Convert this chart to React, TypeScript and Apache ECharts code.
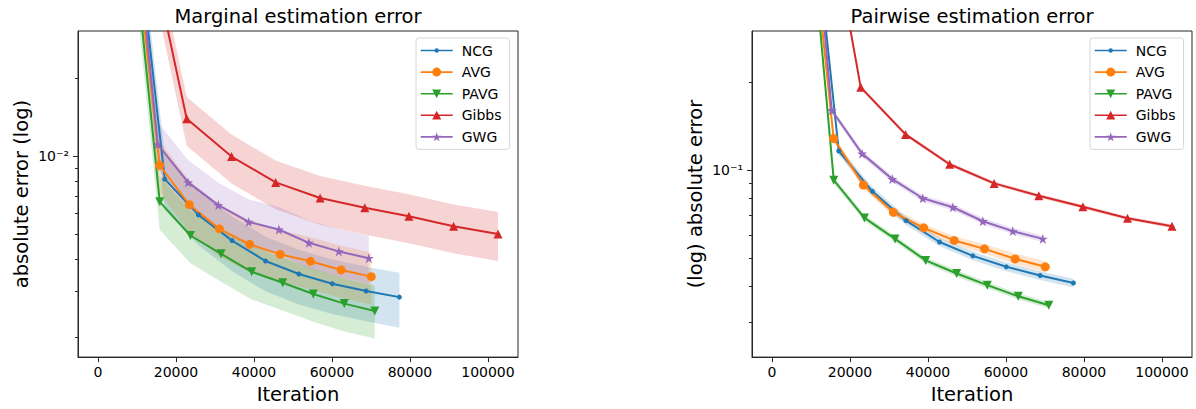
import React, { useEffect, useRef } from "react";
import * as echarts from "echarts";

const FONT = "DejaVu Sans";

const seriesNames = ["NCG", "AVG", "PAVG", "Gibbs", "GWG"];
const colors = ["#1f77b4", "#ff7f0e", "#2ca02c", "#d62728", "#9467bd"];
const titles = ["Marginal estimation error", "Pairwise estimation error"];
const yNames = ["absolute error (log)", "(log) absolute error"];
const xTicks = [0, 20000, 40000, 60000, 80000, 100000];

// iterations (x) per method
const ncgX = [8590, 17120, 25745, 34380, 42955, 51505, 60085, 68755, 77290];
const avgX = [8050, 15800, 23430, 31120, 38900, 46710, 54490, 62345, 70080];
const pavgX = [7900, 15836, 23700, 31555, 39410, 47367, 55212, 63156, 70980];
const gibbsX = [11380, 22755, 34247, 45560, 56963, 68418, 79731, 91172, 102575];
const gwgX = [7590, 15320, 23100, 30865, 38655, 46380, 54070, 61755, 69440];

// Marginal estimation error (mean, lower, upper)
const ncgMarg = [0.114, 0.00814, 0.00593, 0.00472, 0.00394, 0.00351, 0.00322, 0.00302, 0.00286];
const ncgMargLo = [0.087, 0.00621, 0.00453, 0.0036, 0.00301, 0.00268, 0.00246, 0.00231, 0.00218];
const ncgMargHi = [0.1414, 0.0101, 0.00735, 0.00585, 0.00489, 0.00435, 0.00399, 0.00374, 0.00355];
const avgMarg = [0.106, 0.00921, 0.00649, 0.00524, 0.00457, 0.00418, 0.00393, 0.00364, 0.00343];
const avgMargLo = [0.0828, 0.0072, 0.00507, 0.00409, 0.00357, 0.00327, 0.00307, 0.00284, 0.00268];
const avgMargHi = [0.1314, 0.01142, 0.00805, 0.0065, 0.00567, 0.00518, 0.00487, 0.00451, 0.00425];
const pavgMarg = [0.0997, 0.00666, 0.00494, 0.0042, 0.00358, 0.00325, 0.00294, 0.0027, 0.00253];
const pavgMargLo = [0.0779, 0.0052, 0.00386, 0.00328, 0.0028, 0.00254, 0.0023, 0.00211, 0.00198];
const pavgMargHi = [0.1246, 0.00833, 0.00618, 0.00525, 0.00448, 0.00406, 0.00368, 0.00338, 0.00316];
const gibbsMarg = [0.0877, 0.0139, 0.00995, 0.00791, 0.00689, 0.00632, 0.00586, 0.00536, 0.00501];
const gibbsMargLo = [0.069, 0.01094, 0.00783, 0.00623, 0.00543, 0.00498, 0.00461, 0.00422, 0.00394];
const gibbsMargHi = [0.1066, 0.01689, 0.01209, 0.00961, 0.00837, 0.00768, 0.00712, 0.00651, 0.00609];
const gwgMarg = [0.16, 0.01109, 0.00791, 0.00647, 0.00557, 0.00521, 0.00463, 0.00429, 0.00404];
const gwgMargLo = [0.128, 0.00887, 0.00633, 0.00518, 0.00446, 0.00417, 0.0037, 0.00343, 0.00323];
const gwgMargHi = [0.195, 0.01353, 0.00965, 0.00789, 0.0068, 0.00636, 0.00565, 0.00523, 0.00493];

// Pairwise estimation error (mean, lower, upper)
const ncgPair = [1.4, 0.1164, 0.0846, 0.0671, 0.0567, 0.0508, 0.0466, 0.0435, 0.041];
const ncgPairLo = [1.353, 0.1125, 0.0817, 0.0648, 0.0548, 0.0491, 0.045, 0.042, 0.0396];
const ncgPairHi = [1.449, 0.1205, 0.0876, 0.0694, 0.0587, 0.0526, 0.0482, 0.045, 0.0424];
const avgPair = [1.29, 0.1285, 0.0889, 0.0717, 0.0634, 0.0574, 0.0537, 0.0496, 0.0466];
const avgPairLo = [1.25, 0.1247, 0.0863, 0.0696, 0.0615, 0.0555, 0.0517, 0.0475, 0.0446];
const avgPairHi = [1.33, 0.1324, 0.0916, 0.0738, 0.0653, 0.0593, 0.0557, 0.0518, 0.0487];
const pavgPair = [1.4, 0.0924, 0.0686, 0.0581, 0.049, 0.0442, 0.0403, 0.0369, 0.0344];
const pavgPairLo = [1.366, 0.0901, 0.0669, 0.0567, 0.0478, 0.0431, 0.0393, 0.036, 0.0336];
const pavgPairHi = [1.435, 0.0947, 0.0703, 0.0596, 0.0502, 0.0453, 0.0413, 0.0378, 0.0353];
const gibbsPair = [1.36, 0.1925, 0.1327, 0.1048, 0.0901, 0.0817, 0.0749, 0.0684, 0.0642];
const gibbsPairLo = [1.34, 0.1897, 0.1307, 0.1032, 0.0888, 0.0805, 0.0738, 0.0674, 0.0633];
const gibbsPairHi = [1.38, 0.1954, 0.1347, 0.1064, 0.0915, 0.0829, 0.076, 0.0694, 0.0652];
const gwgPair = [2.3, 0.1606, 0.114, 0.0932, 0.0801, 0.0746, 0.0668, 0.0618, 0.0581];
const gwgPairLo = [2.24, 0.1567, 0.1112, 0.0909, 0.0781, 0.0728, 0.0652, 0.0603, 0.0567];
const gwgPairHi = [2.36, 0.1646, 0.1169, 0.0955, 0.0821, 0.0765, 0.0685, 0.0633, 0.0596];

// y ranges & ticks
const margRange = [0.00168, 0.0303];
const pairRange = [0.02282, 0.3006];
const margMajor = [0.01];
const margMinor = [0.002, 0.003, 0.004, 0.005, 0.006, 0.007, 0.008, 0.009, 0.02];
const pairMajor = [0.1];
const pairMinor = [0.03, 0.04, 0.05, 0.06, 0.07, 0.08, 0.09, 0.2];

function starPoints(cx: number, cy: number, r: number) {
  const pts: string[] = [];
  for (let k = 0; k < 10; k++) {
    const rr = k % 2 === 0 ? r : r * 0.382;
    const a = -Math.PI / 2 + (k * Math.PI) / 5;
    pts.push(`${(cx + rr * Math.cos(a)).toFixed(2)},${(cy + rr * Math.sin(a)).toFixed(2)}`);
  }
  return pts;
}
const STAR = "path://M" + starPoints(50, 52, 50).join(" L") + " Z";

const symbols = [
  { symbol: "circle", size: 5, rotate: 0 },
  { symbol: "circle", size: 9, rotate: 0 },
  { symbol: "triangle", size: 9, rotate: 180 },
  { symbol: "triangle", size: 9, rotate: 0 },
  { symbol: STAR, size: 10, rotate: 0 },
];

// legend icons: line + marker in a 32 x 14 box
const LEG_BOX = "M0,0 L0,0 M32,14 L32,14 ";
const LEG_LINE = "M0,6.2 L32,6.2 L32,7.8 L0,7.8 Z ";
const circ = (r: number) =>
  `M${16 - r},7 A${r},${r} 0 1 1 ${16 + r},7 A${r},${r} 0 1 1 ${16 - r},7 Z `;
const legendIcons = [
  "path://" + LEG_BOX + LEG_LINE + circ(2.2),
  "path://" + LEG_BOX + LEG_LINE + circ(4.5),
  "path://" + LEG_BOX + LEG_LINE + "M11.5,2.8 L20.5,2.8 L16,11.5 Z",
  "path://" + LEG_BOX + LEG_LINE + "M16,2.5 L20.5,11.2 L11.5,11.2 Z",
  "path://" + LEG_BOX + LEG_LINE + "M" + starPoints(16, 7.4, 5).join(" L") + " Z",
];

const xsAll = [ncgX, avgX, pavgX, gibbsX, gwgX];
const panels = [
  {
    mean: [ncgMarg, avgMarg, pavgMarg, gibbsMarg, gwgMarg],
    lo: [ncgMargLo, avgMargLo, pavgMargLo, gibbsMargLo, gwgMargLo],
    hi: [ncgMargHi, avgMargHi, pavgMargHi, gibbsMargHi, gwgMargHi],
    range: margRange,
    major: margMajor,
    minor: margMinor,
    label: "10⁻²",
  },
  {
    mean: [ncgPair, avgPair, pavgPair, gibbsPair, gwgPair],
    lo: [ncgPairLo, avgPairLo, pavgPairLo, gibbsPairLo, gwgPairLo],
    hi: [ncgPairHi, avgPairHi, pavgPairHi, gibbsPairHi, gwgPairHi],
    range: pairRange,
    major: pairMajor,
    minor: pairMinor,
    label: "10⁻¹",
  },
];

const gridLefts = [78, 752];
const GRID_W = 440;
const GRID_TOP = 31;
const GRID_H = 328;
const AX = "#262626";

function hexToRgba(hex: string, a: number) {
  const n = parseInt(hex.slice(1), 16);
  return `rgba(${(n >> 16) & 255},${(n >> 8) & 255},${n & 255},${a})`;
}

function buildOption() {
  const grid: any[] = [];
  const xAxis: any[] = [];
  const yAxis: any[] = [];
  const series: any[] = [];
  const title: any[] = [];
  const legend: any[] = [];

  panels.forEach((p, pi) => {
    grid.push({
      left: gridLefts[pi],
      top: GRID_TOP,
      width: GRID_W,
      height: GRID_H,
      show: true,
      borderColor: AX,
      borderWidth: 1,
      backgroundColor: "transparent",
    });
    title.push({
      text: titles[pi],
      left: gridLefts[pi] + GRID_W / 2,
      textAlign: "center",
      top: 6,
      padding: 0,
      textStyle: { fontFamily: FONT, fontSize: 19.5, fontWeight: "normal", color: "#000" },
    });
    xAxis.push({
      type: "value",
      gridIndex: pi,
      min: -5129,
      max: 107704,
      name: "Iteration",
      nameLocation: "middle",
      nameGap: 24,
      nameTextStyle: { fontFamily: FONT, fontSize: 19.5, color: "#000" },
      axisLine: { show: true, onZero: false, lineStyle: { color: AX, width: 1 } },
      axisTick: { show: true, length: 5, lineStyle: { color: AX, width: 1 }, customValues: xTicks },
      axisLabel: {
        customValues: xTicks,
        fontFamily: FONT,
        fontSize: 14,
        color: "#000",
        margin: 8,
        formatter: (v: number) => String(v),
      },
      splitLine: { show: false },
    });
    // data axis (log scale)
    yAxis.push({
      type: "log",
      logBase: 10,
      gridIndex: pi,
      position: "left",
      min: p.range[0],
      max: p.range[1],
      name: yNames[pi],
      nameLocation: "middle",
      nameGap: 47,
      nameRotate: 90,
      nameTextStyle: { fontFamily: FONT, fontSize: 19.5, color: "#000" },
      axisLine: { show: true, onZero: false, lineStyle: { color: AX, width: 1 } },
      axisTick: { show: false },
      axisLabel: { show: false },
      splitLine: { show: false },
    });
    const lmin = Math.log10(p.range[0]);
    const lmax = Math.log10(p.range[1]);
    // major ticks + labels on the log10 of the same range
    yAxis.push({
      type: "value",
      gridIndex: pi,
      position: "left",
      offset: 0,
      min: lmin,
      max: lmax,
      axisLine: { show: false, onZero: false },
      axisTick: {
        show: true,
        length: 5,
        lineStyle: { color: AX, width: 1 },
        customValues: p.major.map((v) => Math.log10(v)),
      },
      axisLabel: {
        show: true,
        customValues: p.major.map((v) => Math.log10(v)),
        fontFamily: FONT,
        fontSize: 14,
        color: "#000",
        margin: 9,
        formatter: () => p.label,
      },
      splitLine: { show: false },
    });
    // minor ticks
    yAxis.push({
      type: "value",
      gridIndex: pi,
      position: "left",
      offset: 0,
      min: lmin,
      max: lmax,
      axisLine: { show: false, onZero: false },
      axisTick: {
        show: true,
        length: 3,
        lineStyle: { color: AX, width: 1 },
        customValues: p.minor.map((v) => Math.log10(v)),
      },
      axisLabel: {
        show: true,
        customValues: p.minor.map((v) => Math.log10(v)),
        formatter: () => "",
      },
      splitLine: { show: false },
    });

    const yIdx = pi * 3;
    // shaded bands
    seriesNames.forEach((name, si) => {
      const xs = xsAll[si];
      const lo = p.lo[si];
      const hi = p.hi[si];
      series.push({
        type: "custom",
        name: name + " band",
        xAxisIndex: pi,
        yAxisIndex: yIdx,
        clip: true,
        silent: true,
        z: 1,
        data: xs.map((x, i) => [x, lo[i], hi[i]]),
        encode: { x: 0, y: [1, 2] },
        renderItem: (params: any, api: any) => {
          if (params.dataIndex !== 0) return null;
          const top = xs.map((x, i) => api.coord([x, hi[i]]));
          const bot = xs.map((x, i) => api.coord([x, lo[i]])).reverse();
          return {
            type: "polygon",
            shape: { points: top.concat(bot) },
            style: { fill: hexToRgba(colors[si], 0.2), stroke: "none" },
          };
        },
      });
    });
    // lines
    seriesNames.forEach((name, si) => {
      const xs = xsAll[si];
      const ys = p.mean[si];
      series.push({
        type: "line",
        name,
        xAxisIndex: pi,
        yAxisIndex: yIdx,
        data: xs.map((x, i) => [x, ys[i]]),
        symbol: symbols[si].symbol,
        symbolSize: symbols[si].size,
        symbolRotate: symbols[si].rotate,
        showSymbol: true,
        showAllSymbol: true,
        clip: true,
        z: 3,
        lineStyle: { color: colors[si], width: 2 },
        itemStyle: { color: colors[si], borderWidth: 0 },
        emphasis: { disabled: true },
      });
    });

    legend.push({
      show: true,
      data: seriesNames.map((n, si) => ({ name: n, icon: legendIcons[si], itemStyle: { color: colors[si] } })),
      orient: "vertical",
      left: gridLefts[pi] + GRID_W - 102,
      top: 38,
      itemWidth: 32,
      itemHeight: 14,
      itemGap: 7.6,
      symbolKeepAspect: true,
      padding: [5.5, 8, 5.5, 4.7],
      borderColor: "#d6d6d6",
      borderWidth: 1,
      borderRadius: 3,
      backgroundColor: "rgba(255,255,255,0.8)",
      selectedMode: false,
      textStyle: { fontFamily: FONT, fontSize: 14, color: "#000", padding: [0, 0, 0, 4] },
    });
  });

  return {
    animation: false,
    backgroundColor: "#fff",
    textStyle: { fontFamily: FONT },
    title,
    legend,
    grid,
    xAxis,
    yAxis,
    series,
  };
}

export default function App() {
  const ref = useRef<HTMLDivElement>(null);
  useEffect(() => {
    if (!ref.current) return;
    const chart = echarts.init(ref.current, undefined, { renderer: "svg" });
    chart.setOption(buildOption() as any);
    return () => chart.dispose();
  }, []);
  return (
    <div
      ref={ref}
      style={{ position: "absolute", left: 0, top: 0, width: 1196, height: 409, background: "#fff" }}
    />
  );
}
